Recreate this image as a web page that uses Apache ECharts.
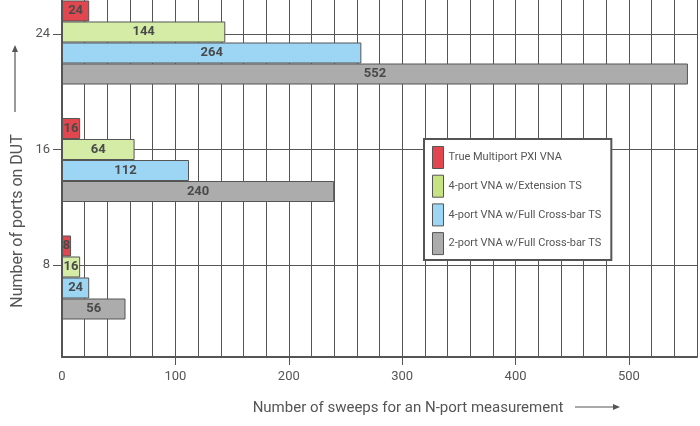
<!DOCTYPE html>
<html>
<head>
<meta charset="utf-8">
<script src="https://cdn.jsdelivr.net/npm/echarts@6/dist/echarts.min.js"></script>
<style>html,body{margin:0;padding:0;background:#fff}#c{width:700px;height:426px}</style>
</head>
<body>
<div id="c"></div>
<script>
var categories = ['8', '16', '24'];
var seriesNames = ['True Multiport PXI VNA', '4-port VNA w/Extension TS', '4-port VNA w/Full Cross-bar TS', '2-port VNA w/Full Cross-bar TS'];
var trueMultiport = [8, 16, 24];
var ext4port = [16, 64, 144];
var crossbar4port = [24, 112, 264];
var crossbar2port = [56, 240, 552];
var xTickLabels = [0, 100, 200, 300, 400, 500];
var xTickMarks = [100, 200, 300, 400, 500];
var yTickLabels = [8, 16, 24];

var colors = ['#e2474f', '#d4eca6', '#9dd6f5', '#acacac'];
var legendColors = ['#e2474f', '#c5e383', '#9dd6f5', '#acacac'];
var values = [trueMultiport, ext4port, crossbar4port, crossbar2port];
var FONT = 'Roboto';
var GRAY = '#555';

var chart = echarts.init(document.getElementById('c'), null, {renderer: 'canvas'});

var series = seriesNames.map(function (n, i) {
  return {
    name: n,
    type: 'bar',
    xAxisIndex: 3,
    yAxisIndex: 2,
    data: values[i],
    barGap: 0,
    barCategoryGap: '28.5%',
    clip: false,
    itemStyle: {color: colors[i], borderColor: GRAY, borderWidth: 1},
    label: {show: true, position: 'inside', color: '#4a4a4a', fontWeight: 'bold', fontSize: 13, fontFamily: FONT},
    emphasis: {disabled: true},
    animation: false,
    z: 3
  };
});

chart.setOption({
  animation: false,
  textStyle: {fontFamily: FONT},
  grid: [
    {left: 62, right: 3, top: 0, bottom: 69},
    {left: 62, right: 3, top: 34, height: 231},
    {left: 62, right: 3, top: 42.5, height: 235}
  ],
  xAxis: [
    {gridIndex: 0, type: 'value', min: 0, max: 560, interval: 20, position: 'bottom',
      axisLine: {show: true, lineStyle: {color: GRAY, width: 2}},
      axisTick: {show: false}, axisLabel: {show: false},
      splitLine: {show: true, lineStyle: {color: GRAY, width: 1}}},
    {gridIndex: 0, type: 'value', min: 0, max: 560, interval: 100, position: 'bottom',
      axisLine: {show: false},
      axisTick: {show: true, length: 8, customValues: xTickMarks, lineStyle: {color: GRAY, width: 1}},
      axisLabel: {show: true, customValues: xTickLabels, color: GRAY, fontSize: 13, margin: 13, fontFamily: FONT},
      splitLine: {show: false}},
    {gridIndex: 1, type: 'value', min: 0, max: 560, show: false},
    {gridIndex: 2, type: 'value', min: 0, max: 560, show: false}
  ],
  yAxis: [
    {gridIndex: 0, type: 'value', min: 0, max: 1,
      axisLine: {show: true, lineStyle: {color: GRAY, width: 2}},
      axisTick: {show: false}, axisLabel: {show: false}, splitLine: {show: false}},
    {gridIndex: 1, type: 'value', min: 8, max: 24, interval: 8,
      axisLine: {show: false},
      axisTick: {show: true, length: 9, lineStyle: {color: GRAY, width: 1}},
      axisLabel: {show: true, customValues: yTickLabels, color: GRAY, fontSize: 13, margin: 12, fontFamily: FONT},
      splitLine: {show: true, lineStyle: {color: GRAY, width: 1}}},
    {gridIndex: 2, type: 'category', data: categories, boundaryGap: false, show: false}
  ],
  legend: {
    orient: 'vertical', left: 424, top: 139,
    itemWidth: 11, itemHeight: 22, itemGap: 5.7,
    padding: [7, 10, 5, 8],
    borderColor: GRAY, borderWidth: 2, borderRadius: 0, backgroundColor: '#fff',
    textStyle: {fontSize: 11, color: GRAY, fontFamily: FONT},
    data: seriesNames.map(function (n, i) {
      return {name: n, icon: 'rect', itemStyle: {color: legendColors[i], borderColor: GRAY, borderWidth: 1}};
    }),
    selectedMode: false,
    z: 10
  },
  graphic: [
    {type: 'text', x: 18, y: 221, rotation: Math.PI / 2,
      style: {text: 'Number of ports on DUT', fill: GRAY, fontSize: 16, fontFamily: FONT, align: 'center', verticalAlign: 'middle'}},
    {type: 'line', shape: {x1: 15, y1: 112, x2: 15, y2: 50}, style: {stroke: GRAY, lineWidth: 1.2}},
    {type: 'polygon', shape: {points: [[15, 45], [12, 52], [18, 52]]}, style: {fill: GRAY}},
    {type: 'text', x: 408, y: 408,
      style: {text: 'Number of sweeps for an N-port measurement', fill: GRAY, fontSize: 15, fontFamily: FONT, align: 'center', verticalAlign: 'middle'}},
    {type: 'line', shape: {x1: 575, y1: 407, x2: 614, y2: 407}, style: {stroke: GRAY, lineWidth: 1.2}},
    {type: 'polygon', shape: {points: [[620, 407], [613, 404], [613, 410]]}, style: {fill: GRAY}}
  ],
  series: series
});
</script>
</body>
</html>
